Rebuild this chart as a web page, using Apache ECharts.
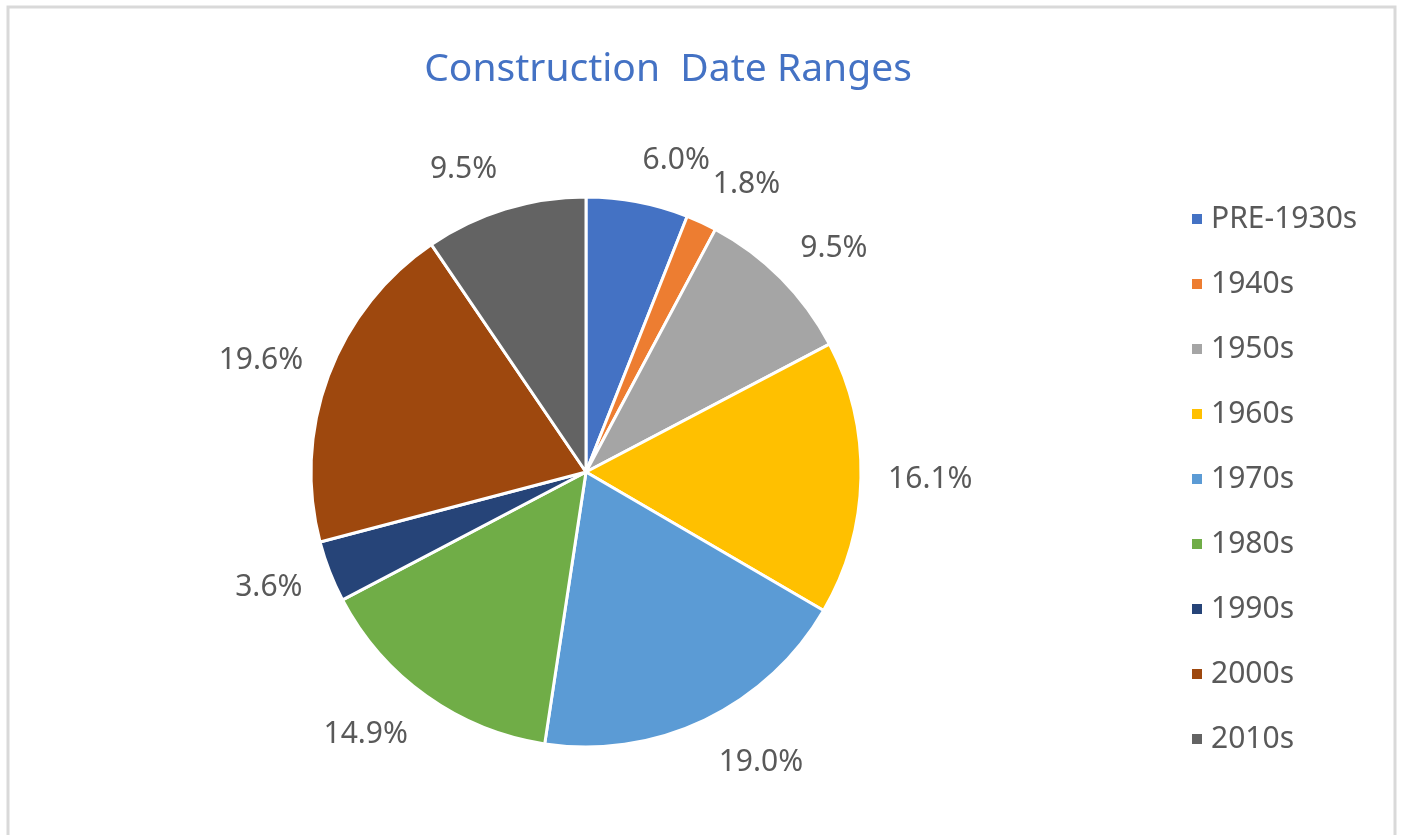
<!DOCTYPE html>
<html>
<head>
<meta charset="utf-8">
<script src="https://cdn.jsdelivr.net/npm/echarts@6/dist/echarts.min.js"></script>
<style>
  html, body { margin: 0; padding: 0; background: #fff; }
  #main { width: 1403px; height: 835px; }
</style>
</head>
<body>
<div id="main"></div>
<script>
// data
var categories = ['PRE-1930s', '1940s', '1950s', '1960s', '1970s', '1980s', '1990s', '2000s', '2010s'];
var shares = [6.0, 1.8, 9.5, 16.1, 19.0, 14.9, 3.6, 19.6, 9.5];
var colors = ['#4472C4', '#ED7D31', '#A5A5A5', '#FFC000', '#5B9BD5', '#70AD47', '#264478', '#9E480E', '#636363'];

var cx = 586, cy = 472, radius = 275;

// middle angle of every slice, clockwise from 12 o'clock
var total = shares.reduce(function (s, v) { return s + v; }, 0);
var midAngles = [];
var cum = 0;
shares.forEach(function (v) {
  midAngles.push((cum + v / 2) / total * Math.PI * 2);
  cum += v;
});

// put labels just outside the slice end, like Excel does
function placeLabel(params) {
  var a = midAngles[params.dataIndex];
  var ux = Math.sin(a), uy = -Math.cos(a);
  var w = params.labelRect.width, h = params.labelRect.height;
  var d = radius + 27 + Math.max(0, uy) * 6;
  return {
    x: cx + d * ux + (ux >= 0 ? 1 : -1) * w / 2,
    y: cy + d * uy + uy * h / 2,
    align: 'center',
    verticalAlign: 'middle'
  };
}

var myChart = echarts.init(document.getElementById('main'));
myChart.setOption({
  backgroundColor: '#fff',
  animation: false,
  color: colors,
  title: {
    text: 'Construction  Date Ranges',
    left: 663,
    top: 45,
    textAlign: 'center',
    textStyle: { color: '#4472C4', fontFamily: 'Noto Sans', fontSize: 39, fontWeight: 'normal' }
  },
  legend: {
    orient: 'vertical',
    left: 1185,
    top: 199,
    itemWidth: 12,
    itemHeight: 12,
    itemGap: 35,
    icon: 'rect',
    data: categories,
    textStyle: { color: '#595959', fontFamily: 'Noto Sans', fontSize: 30, lineHeight: 30, padding: [0, 0, 0, 3] }
  },
  graphic: [{
    type: 'rect',
    shape: { x: 8, y: 7, width: 1387, height: 845 },
    style: { fill: 'none', stroke: '#d9d9d9', lineWidth: 3 },
    silent: true
  }],
  series: [{
    type: 'pie',
    center: [cx, cy],
    radius: radius,
    startAngle: 90,
    avoidLabelOverlap: false,
    itemStyle: { borderColor: '#fff', borderWidth: 3 },
    label: {
      show: true,
      position: 'outside',
      color: '#595959',
      fontFamily: 'Noto Sans',
      fontSize: 30,
      formatter: function (p) { return p.value.toFixed(1) + '%'; }
    },
    labelLine: { show: false },
    labelLayout: placeLabel,
    emphasis: { disabled: true },
    data: categories.map(function (c, i) { return { name: c, value: shares[i] }; })
  }]
});
</script>
</body>
</html>
